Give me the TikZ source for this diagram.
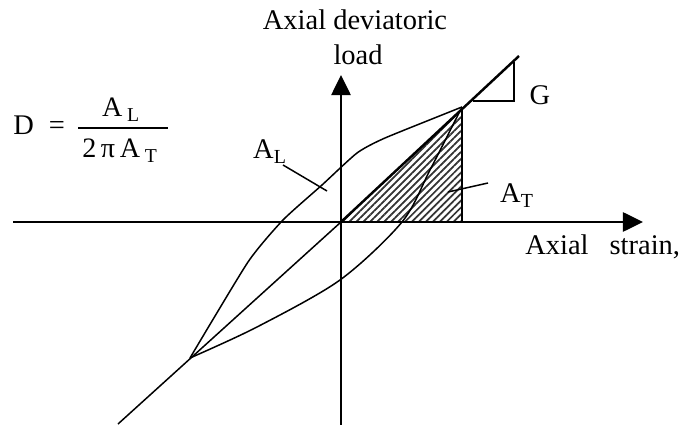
\documentclass[tikz,border=0pt]{standalone}
\usepackage{fontspec}
\setmainfont{Liberation Serif}
\usetikzlibrary{arrows.meta,patterns.meta}
\begin{document}
\begin{tikzpicture}[
  x=0.02cm, y=-0.02cm,
  curve/.style={line width=0.85pt},
  axis/.style={line width=0.9pt, -{Triangle[length=11.4pt,width=11pt]}},
  lbl/.style={font=\fontsize{16.2}{19}\selectfont, inner sep=0pt},
  frc/.style={font=\fontsize{16}{18}\selectfont, inner sep=0pt},
  hatch/.style={pattern={Lines[angle=45,distance=2.8pt,line width=1pt]},
                pattern color=black!80},
]
\useasboundingbox (0,0) rectangle (682,425);

% ===== Axes ===================================================================
\coordinate (O) at (341,222);
\coordinate (xl) at (13,222);
\coordinate (xr) at (643,222);
\coordinate (yb) at (341,425);
\coordinate (yt) at (341,75);
\draw[axis] (xl) -- (xr);
\draw[axis] (yb) -- (yt);

% ===== Hatched triangle A_T ===================================================
\coordinate (tip) at (462,107);
\coordinate (foot) at (462,222);
\fill[hatch] (O) -- (tip) -- (foot) -- cycle;
\draw[curve] (tip) -- (foot) -- (O);

% ===== Secant line (slope G) ==================================================
\coordinate (lo) at (118,424);
\coordinate (hi) at (519,56);
\draw[curve] (lo) -- (O);
\draw[line width=1.4pt] (O) -- (hi);

% G triangle
\coordinate (g1) at (473,101);
\coordinate (g2) at (514,101);
\coordinate (g3) at (514,62);
\draw[curve] (g1) -- (g2) -- (g3);

% ===== Hysteresis loop ========================================================
% upper branch
\draw[curve] plot[smooth, tension=0.35] coordinates
  {(190,358) (248,262) (283,220) (322,185) (357,153) (385,138) (462,107)};
% lower branch
\draw[curve] plot[smooth, tension=0.5] coordinates
  {(190,358) (257,327) (340,280) (402,222) (430,170) (462,107)};

% ===== Labels =================================================================
\node[lbl, anchor=base] (ttl) at (355,30) {Axial deviatoric};
\node[lbl, anchor=base] (load) at (358,65) {load};
\node[lbl, anchor=base west] (strain) at (525,255) {Axial\hspace{12pt}strain,};
\node[lbl, anchor=base] (G) at (540,105) {G};

\node[lbl, anchor=base] (AL) at (270,159) {A\textsubscript{L}};
\coordinate (ALa) at (283,165);
\coordinate (ALb) at (327,191);
\draw[curve] (ALa) -- (ALb);

\node[lbl, anchor=base] (AT) at (517,203) {A\textsubscript{T}};
\coordinate (ATa) at (448,192);
\coordinate (ATb) at (488,183);
\draw[curve] (ATa) -- (ATb);

% ===== Damping formula ========================================================
\node[lbl, anchor=base west] (D) at (13,135) {D};
\node[lbl, anchor=base] (eq) at (57,135) {=};
\node[frc, anchor=base] (num) at (121,117) {A\,\textsubscript{L}};
\node[frc, anchor=base] (den) at (120,158) {2\,π\,A\,\textsubscript{T}};
\coordinate (barl) at (78,128);
\coordinate (barr) at (168,128);
\draw[line width=0.6pt] (barl) -- (barr);

\end{tikzpicture}
\end{document}
